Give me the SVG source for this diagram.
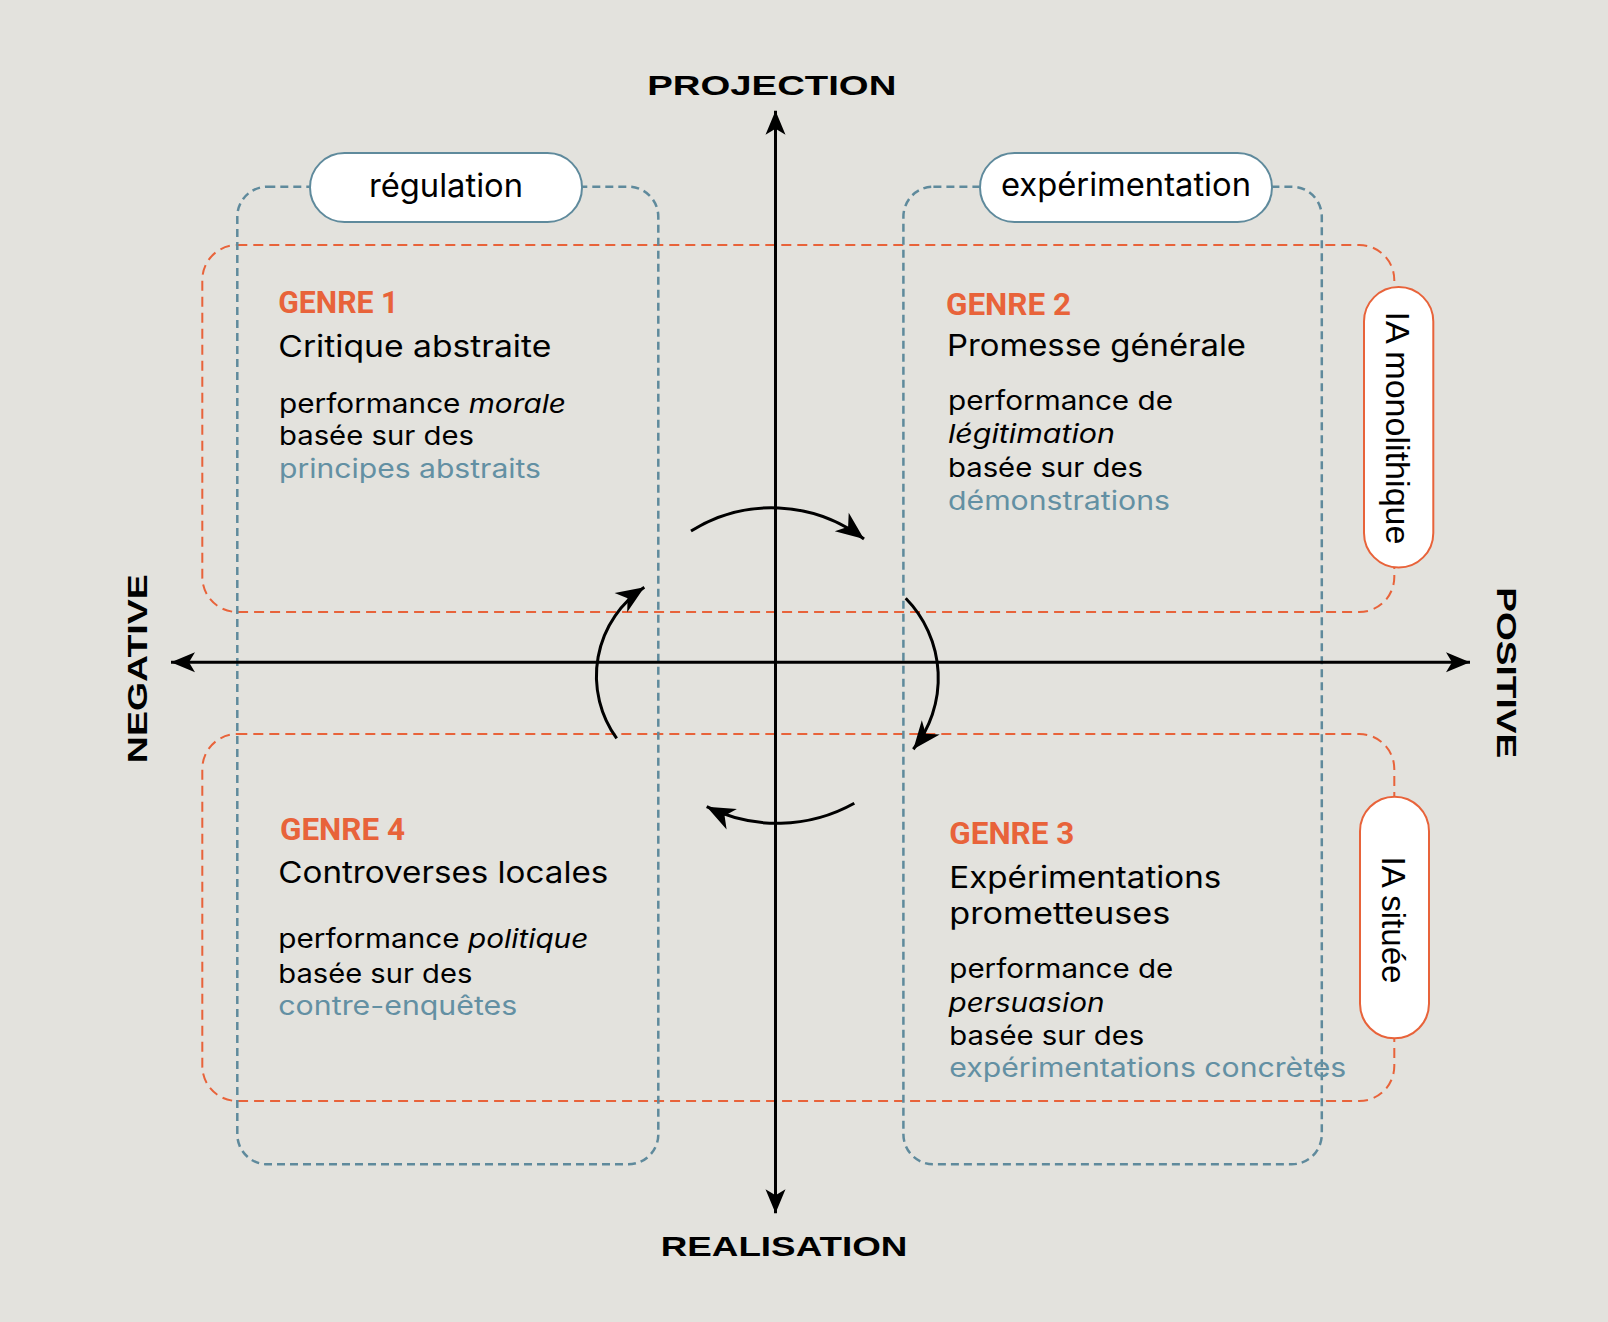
<svg xmlns="http://www.w3.org/2000/svg" width="1608" height="1322" viewBox="0 0 1608 1322">
<defs>
<style>
.bg{fill:#e3e2dd}
.blue{fill:none;stroke:#5f8a9c;stroke-width:2.5;stroke-dasharray:8 5}
.orange{fill:none;stroke:#e8633a;stroke-width:2;stroke-dasharray:10 6}
.pillb{fill:#ffffff;stroke:#5f8a9c;stroke-width:2}
.pillo{fill:#ffffff;stroke:#e8633a;stroke-width:2}
.genre{font-family:Roboto,"Liberation Sans",sans-serif;font-weight:700;font-size:31px;fill:#e8633a}
.title{font-family:Inter,"Liberation Sans",sans-serif;font-size:30px;fill:#000000}
.body{font-family:Inter,"Liberation Sans",sans-serif;font-size:26px;fill:#000000}
.hl{fill:#6390a3}
.it{font-style:italic}
.axis{font-family:"Liberation Sans",Arial,sans-serif;font-weight:700;font-size:28px;fill:#000000}
.pt{font-family:Inter,"Liberation Sans",sans-serif;font-size:32px;fill:#000000}
.vt{font-family:"Liberation Sans",Arial,sans-serif;font-size:33px;fill:#000000}
.line{stroke:#000000;stroke-width:3;fill:none}
</style>
<marker id="ah" viewBox="-26 -12 28 24" refX="0" refY="0" markerWidth="28" markerHeight="24" markerUnits="userSpaceOnUse" orient="auto-start-reverse">
<path d="M0,0 L-24,-10 L-18,0 L-24,10 Z" fill="#000000"/>
</marker>
<marker id="ah2" viewBox="-30 -13 32 26" refX="0" refY="0" markerWidth="32" markerHeight="26" markerUnits="userSpaceOnUse" orient="auto">
<path d="M0,0 L-28,-11.5 L-20,0 L-28,11.5 Z" fill="#000000"/>
</marker>
</defs>
<rect class="bg" x="0" y="0" width="1608" height="1322"/>

<g id="zones">
<rect id="zone-monolithique" class="orange" x="202.3" y="245" width="1192" height="367" rx="35"/>
<rect id="zone-situee" class="orange" x="202.3" y="734" width="1192" height="367" rx="35"/>
<rect id="zone-regulation" class="blue" x="237.3" y="186.7" width="421" height="977.6" rx="30"/>
<rect id="zone-experimentation" class="blue" x="903.4" y="186.7" width="418.4" height="977.6" rx="30"/>
</g>

<g id="connectors">
<path class="line" d="M775.5,110.7 L775.5,1213.3" marker-start="url(#ah)" marker-end="url(#ah)"/>
<path class="line" d="M171,662.3 L1470,662.3" marker-start="url(#ah)" marker-end="url(#ah)"/>
<path class="line" d="M691,531 A152,152 0 0 1 864,539" marker-end="url(#ah2)"/>
<path class="line" d="M905.7,598.3 A114,114 0 0 1 913.3,749.3" marker-end="url(#ah2)"/>
<path class="line" d="M854.3,803.3 A158,158 0 0 1 706.7,806.7" marker-end="url(#ah2)"/>
<path class="line" d="M616.7,738.3 A106,106 0 0 1 644.3,587.3" marker-end="url(#ah2)"/>
</g>

<g id="regulation">
<rect class="pillb" x="310" y="153" width="272" height="69" rx="34.5"/>
<text class="pt" x="446" y="196.7" text-anchor="middle" textLength="154" lengthAdjust="spacingAndGlyphs">régulation</text>
</g>
<g id="experimentation">
<rect class="pillb" x="980" y="153" width="292" height="69" rx="34.5"/>
<text class="pt" x="1126" y="196" text-anchor="middle" textLength="250" lengthAdjust="spacingAndGlyphs">expérimentation</text>
</g>
<g id="ia-monolithique">
<rect class="pillo" x="1364" y="287" width="69.3" height="280.5" rx="34.6"/>
<text class="vt" transform="translate(1386,428) rotate(90)" text-anchor="middle" textLength="233" lengthAdjust="spacingAndGlyphs">IA monolithique</text>
</g>
<g id="ia-situee">
<rect class="pillo" x="1360" y="796.7" width="69" height="241.6" rx="34.5"/>
<text class="vt" transform="translate(1381.7,920) rotate(90)" text-anchor="middle" textLength="127" lengthAdjust="spacingAndGlyphs">IA située</text>
</g>

<g id="genre1">
<text class="genre" x="278.3" y="313.3" textLength="120" lengthAdjust="spacingAndGlyphs">GENRE 1</text>
<text class="title" x="278.3" y="356.7" textLength="273" lengthAdjust="spacingAndGlyphs">Critique abstraite</text>
<text class="body" x="279" y="413.3" textLength="287" lengthAdjust="spacingAndGlyphs">performance <tspan class="it">morale</tspan></text>
<text class="body" x="279" y="445" textLength="195" lengthAdjust="spacingAndGlyphs">basée sur des</text>
<text class="body hl" x="279" y="478.3" textLength="262" lengthAdjust="spacingAndGlyphs">principes abstraits</text>
</g>

<g id="genre2">
<text class="genre" x="946" y="315" textLength="125" lengthAdjust="spacingAndGlyphs">GENRE 2</text>
<text class="title" x="947" y="356" textLength="299" lengthAdjust="spacingAndGlyphs">Promesse générale</text>
<text class="body" x="948" y="410" textLength="225" lengthAdjust="spacingAndGlyphs">performance de</text>
<text class="body it" x="948" y="443.3" textLength="167" lengthAdjust="spacingAndGlyphs">légitimation</text>
<text class="body" x="948" y="476.7" textLength="195" lengthAdjust="spacingAndGlyphs">basée sur des</text>
<text class="body hl" x="948" y="510" textLength="222" lengthAdjust="spacingAndGlyphs">démonstrations</text>
</g>

<g id="genre3">
<text class="genre" x="949.3" y="844.3" textLength="125" lengthAdjust="spacingAndGlyphs">GENRE 3</text>
<text class="title" x="949.3" y="887.7" textLength="272" lengthAdjust="spacingAndGlyphs">Expérimentations</text>
<text class="title" x="949.3" y="924.3" textLength="221" lengthAdjust="spacingAndGlyphs">prometteuses</text>
<text class="body" x="949.3" y="978.3" textLength="224" lengthAdjust="spacingAndGlyphs">performance de</text>
<text class="body it" x="948.5" y="1011.7" textLength="156" lengthAdjust="spacingAndGlyphs">persuasion</text>
<text class="body" x="949.3" y="1045" textLength="195" lengthAdjust="spacingAndGlyphs">basée sur des</text>
<text class="body hl" x="949.3" y="1077.3" textLength="397" lengthAdjust="spacingAndGlyphs">expérimentations concrètes</text>
</g>

<g id="genre4">
<text class="genre" x="280" y="840" textLength="125" lengthAdjust="spacingAndGlyphs">GENRE 4</text>
<text class="title" x="278.3" y="883.3" textLength="330" lengthAdjust="spacingAndGlyphs">Controverses locales</text>
<text class="body" x="278.3" y="948.3" textLength="310" lengthAdjust="spacingAndGlyphs">performance <tspan class="it">politique</tspan></text>
<text class="body" x="278.3" y="982.7" textLength="194" lengthAdjust="spacingAndGlyphs">basée sur des</text>
<text class="body hl" x="278.3" y="1015" textLength="239" lengthAdjust="spacingAndGlyphs">contre-enquêtes</text>
</g>

<g id="axis-labels">
<text id="projection" class="axis" x="647.3" y="95" font-size="27" textLength="249" lengthAdjust="spacingAndGlyphs">PROJECTION</text>
<text id="realisation" class="axis" x="660.7" y="1256" textLength="246.7" lengthAdjust="spacingAndGlyphs">REALISATION</text>
<text id="negative" class="axis" transform="translate(146.7,668.7) rotate(-90)" text-anchor="middle" font-size="29" textLength="189" lengthAdjust="spacingAndGlyphs">NEGATIVE</text>
<text id="positive" class="axis" transform="translate(1497.3,672.7) rotate(90)" text-anchor="middle" font-size="31" textLength="171" lengthAdjust="spacingAndGlyphs">POSITIVE</text>
</g>
</svg>
